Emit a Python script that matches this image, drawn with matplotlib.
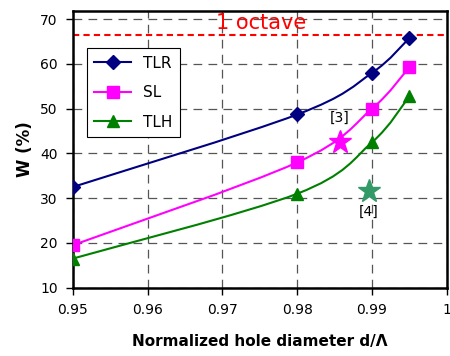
import matplotlib
matplotlib.use("Agg")
import matplotlib.pyplot as plt
import numpy as np
from matplotlib.path import Path
from matplotlib.patches import PathPatch

d = [0.95, 0.98, 0.99, 0.995]
tlr = [32.5, 48.7, 58.0, 65.8]
sl = [19.5, 38.0, 50.0, 59.3]
tlh = [16.5, 31.0, 42.5, 52.8]
ref3 = (0.9857, 42.5)
ref4 = (0.9896, 31.5)
octave = 66.4


def smooth_path(x, y):
    # Excel-like smoothed line: Catmull-Rom converted to cubic bezier
    p = np.column_stack([x, y])
    verts = [p[0]]
    codes = [Path.MOVETO]
    n = len(p)
    for i in range(n - 1):
        p0 = p[i - 1] if i > 0 else p[i]
        p3 = p[i + 2] if i + 2 < n else p[i + 1]
        c1 = p[i] + (p[i + 1] - p0) / 6
        c2 = p[i + 1] - (p3 - p[i]) / 6
        verts += [c1, c2, p[i + 1]]
        codes += [Path.CURVE4] * 3
    return Path(verts, codes)


fig = plt.figure(figsize=(4.5, 3.56), dpi=100)
ax = fig.add_axes([0.162, 0.192, 0.831, 0.778])

series = [
    ("TLR", tlr, "#000080", "D", 7),
    ("SL", sl, "#FF00FF", "s", 9),
    ("TLH", tlh, "#008000", "^", 9),
]
for name, vals, col, mk, ms in series:
    ax.add_patch(PathPatch(smooth_path(d, vals), fill=False, edgecolor=col, lw=1.5, zorder=3))
    ax.plot(d, vals, ls="none", marker=mk, ms=ms, color=col, zorder=4)
    ax.plot([], [], color=col, lw=1.5, marker=mk, ms=ms, label=name)

ax.plot(*ref3, marker="*", ms=17, color="#FF00FF", ls="none", zorder=4)
ax.plot(*ref4, marker="*", ms=17, color="#339966", ls="none", zorder=4)
ax.text(ref3[0], 46.3, "[3]", ha="center", va="bottom", fontsize=10)
ax.text(ref4[0], 28.6, "[4]", ha="center", va="top", fontsize=10)

ax.axhline(octave, color="red", ls=(0, (3, 2)), lw=1.5, zorder=2)
ax.text(0.9752, 67.0, "1 octave", color="red", fontsize=15, ha="center", va="bottom")

ax.set_xlim(0.95, 1.0)
ax.set_ylim(10, 71.9)
ax.set_xticks([0.95, 0.96, 0.97, 0.98, 0.99, 1.0])
ax.set_xticklabels(["0.95", "0.96", "0.97", "0.98", "0.99", "1"])
ax.set_yticks(range(10, 71, 10))
ax.grid(True, color="#555555", ls=(0, (7, 5)), lw=0.9)
ax.tick_params(labelsize=10, length=5, width=1, direction="out", pad=6)
for s in ax.spines.values():
    s.set_linewidth(1.8)
    s.set_color("black")

ax.set_xlabel("Normalized hole diameter d/\u039b", fontsize=11, fontweight="bold", labelpad=12)
ax.set_ylabel("W (%)", fontsize=12, fontweight="bold", labelpad=4)

leg = ax.legend(loc="upper left", bbox_to_anchor=(0.037, 0.865), fontsize=11,
                fancybox=False, framealpha=1, edgecolor="black", borderpad=0.5,
                handlelength=2.4, labelspacing=0.95, borderaxespad=0)
leg.get_frame().set_linewidth(0.8)

fig.savefig("out.png", dpi=100)
